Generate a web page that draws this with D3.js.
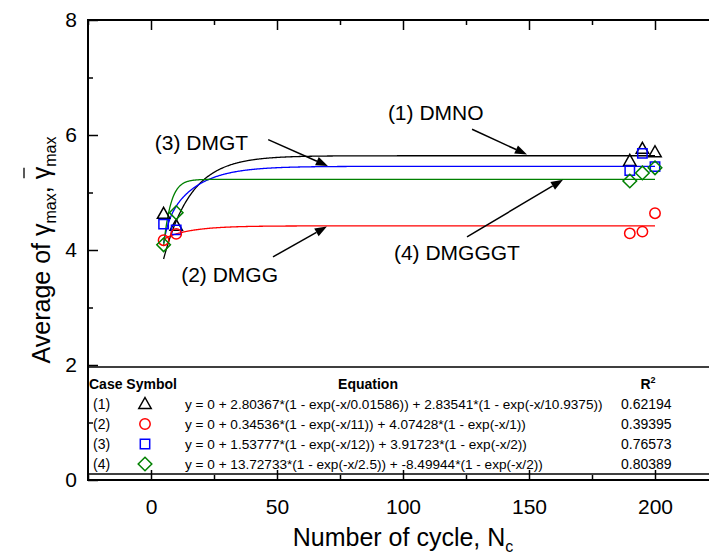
<!DOCTYPE html>
<html>
<head>
<meta charset="utf-8">
<script src="https://cdn.jsdelivr.net/npm/d3@7"></script>
<style>
  body { margin: 0; background: #fff; }
  text { font-family: "Liberation Sans", Arial, sans-serif; }
</style>
</head>
<body>
<script>
// ---------------- data ----------------
const cycles = [5, 10, 190, 195, 200];
const seriesNames = ["(1)", "(2)", "(3)", "(4)"];
const labels = ["DMNO", "DMGG", "DMGT", "DMGGGT"];
const dmno   = [4.63, 4.42, 5.55, 5.76, 5.70];
const dmgg   = [4.17, 4.28, 4.29, 4.32, 4.64];
const dmgt   = [4.45, 4.35, 5.38, 5.68, 5.45];
const dmgggt = [4.09, 4.65, 5.20, 5.34, 5.43];
const colors = ["#000000", "#ff0000", "#0000ff", "#008000"];
const symbols = ["triangle", "circle", "square", "diamond"];
// fit coefficients y = a1*(1-exp(-x/t1)) + a2*(1-exp(-x/t2))
const fitA1 = [2.80367, 0.34536, 1.53777, 13.72733];
const fitT1 = [0.01586, 11, 12, 2.5];
const fitA2 = [2.83541, 4.07428, 3.91723, -8.49944];
const fitT2 = [10.9375, 1, 2, 2];
const equations = [
  "y = 0 + 2.80367*(1 - exp(-x/0.01586)) + 2.83541*(1 - exp(-x/10.9375))",
  "y = 0 + 0.34536*(1 - exp(-x/11)) + 4.07428*(1 - exp(-x/1))",
  "y = 0 + 1.53777*(1 - exp(-x/12)) + 3.91723*(1 - exp(-x/2))",
  "y = 0 + 13.72733*(1 - exp(-x/2.5)) + -8.49944*(1 - exp(-x/2))"
];
const r2 = ["0.62194", "0.39395", "0.76573", "0.80389"];
const xTicks = [0, 50, 100, 150, 200];
const xMinor = [-25, 25, 75, 125, 175, 225];
const yTicks = [0, 2, 4, 6, 8];
const yMinor = [1, 3, 5, 7];
// annotations (data coords): text pos, arrow start, arrow end
const annText = ["(1) DMNO", "(3) DMGT", "(2) DMGG", "(4) DMGGGT"];
const annTextPos = [[94, 6.26], [1.5, 5.74], [50.4, 3.44], [96.4, 3.83]];
const annAnchor = ["start", "start", "end", "start"];
const annFrom = [[127.4, 6.10], [46.5, 5.92], [48.4, 3.88], [125.4, 4.23]];
const annTo = [[149.2, 5.66], [70.2, 5.46], [69.8, 4.41], [163.5, 5.22]];

const values = [dmno, dmgg, dmgt, dmgggt];

// ---------------- layout ----------------
const W = 709, H = 555;
const x = d3.scaleLinear().domain([-25, 225]).range([88, 718]);
const y = d3.scaleLinear().domain([0, 8]).range([480, 20]);

const svg = d3.select("body").append("svg").attr("width", W).attr("height", H);

// legend box (drawn below axes)
const lg = svg.append("g");
lg.append("rect").attr("x", 88).attr("y", 367).attr("width", 640).attr("height", 107)
  .attr("fill", "none").attr("stroke", "#000").attr("stroke-width", 1.5);
lg.append("text").attr("x", 89).attr("y", 389).attr("font-size", 14).attr("font-weight", "bold").text("Case Symbol");
lg.append("text").attr("x", 368).attr("y", 389).attr("font-size", 14).attr("font-weight", "bold").attr("text-anchor", "middle").text("Equation");
const r2h = lg.append("text").attr("x", 648).attr("y", 389).attr("font-size", 14).attr("font-weight", "bold").attr("text-anchor", "middle");
r2h.append("tspan").text("R");
r2h.append("tspan").attr("font-size", 9).attr("dy", -6).text("2");

function symbolPath(kind) {
  if (kind === "triangle") return "M0,-6.5L6.2,4.5L-6.2,4.5Z";
  if (kind === "square") return "M-4.7,-4.7L4.7,-4.7L4.7,4.7L-4.7,4.7Z";
  if (kind === "diamond") return "M0,-6.8L6.8,0L0,6.8L-6.8,0Z";
  return null;
}
function drawSymbol(g, kind, cx, cy, color) {
  if (kind === "circle") {
    g.append("circle").attr("cx", cx).attr("cy", cy).attr("r", 5.2)
      .attr("fill", "none").attr("stroke", color).attr("stroke-width", 1.5);
  } else {
    g.append("path").attr("d", symbolPath(kind)).attr("transform", `translate(${cx},${cy})`)
      .attr("fill", "none").attr("stroke", color).attr("stroke-width", 1.5);
  }
}

const rowY = [404, 424, 444, 464];
seriesNames.forEach((n, i) => {
  lg.append("text").attr("x", 93).attr("y", rowY[i] + 5).attr("font-size", 14).text(n);
  drawSymbol(lg, symbols[i], 145, rowY[i], colors[i]);
  lg.append("text").attr("x", 185).attr("y", rowY[i] + 5).attr("font-size", 13.6).text(equations[i]);
  lg.append("text").attr("x", 621).attr("y", rowY[i] + 5).attr("font-size", 14).text(r2[i]);
});

// fit curves
const fitXs = d3.range(5, 200.01, 0.25);
const line = d3.line().x(d => x(d[0])).y(d => y(d[1]));
[0, 2, 3, 1].forEach(i => {
  const pts = fitXs.map(v => [v, fitA1[i] * (1 - Math.exp(-v / fitT1[i])) + fitA2[i] * (1 - Math.exp(-v / fitT2[i]))]);
  svg.append("path").datum(pts).attr("d", line).attr("fill", "none")
    .attr("stroke", colors[i]).attr("stroke-width", 1.3);
});

// data points
const pg = svg.append("g");
[0, 2, 1, 3].forEach(i => {
  values[i].forEach((v, j) => drawSymbol(pg, symbols[i], x(cycles[j]), y(v), colors[i]));
});

// annotations
const ag = svg.append("g");
annText.forEach((t, i) => {
  ag.append("text").attr("x", x(annTextPos[i][0])).attr("y", y(annTextPos[i][1]))
    .attr("font-size", 21).attr("text-anchor", annAnchor[i]).text(t);
  const x1 = x(annFrom[i][0]), y1 = y(annFrom[i][1]);
  const x2 = x(annTo[i][0]), y2 = y(annTo[i][1]);
  const ang = Math.atan2(y2 - y1, x2 - x1);
  const L = 12, Wd = 4.5;
  const bx = x2 - L * Math.cos(ang), by = y2 - L * Math.sin(ang);
  ag.append("line").attr("x1", x1).attr("y1", y1).attr("x2", bx).attr("y2", by)
    .attr("stroke", "#000").attr("stroke-width", 1.5);
  ag.append("path").attr("d", `M${x2},${y2}L${bx + Wd * Math.sin(ang)},${by - Wd * Math.cos(ang)}L${bx - Wd * Math.sin(ang)},${by + Wd * Math.cos(ang)}Z`)
    .attr("fill", "#000");
});

// axes
function styleAxis(g) {
  g.select(".domain").remove();
  g.selectAll(".tick line").attr("stroke", "#000").attr("stroke-width", 1.5);
  g.selectAll("text").attr("font-size", 21).attr("fill", "#000")
    .attr("font-family", "Liberation Sans, Arial, sans-serif");
}
svg.append("g").attr("transform", "translate(0,480)")
  .call(d3.axisBottom(x).tickValues(xTicks).tickSize(-10).tickPadding(19).tickFormat(d3.format("d"))).call(styleAxis);
svg.append("g").attr("transform", "translate(0,480)")
  .call(d3.axisBottom(x).tickValues(xMinor).tickSize(-5).tickFormat("")).call(styleAxis);
svg.append("g").attr("transform", "translate(0,20)")
  .call(d3.axisTop(x).tickValues(xTicks).tickSize(-10).tickFormat("")).call(styleAxis);
svg.append("g").attr("transform", "translate(0,20)")
  .call(d3.axisTop(x).tickValues(xMinor).tickSize(-5).tickFormat("")).call(styleAxis);
svg.append("g").attr("transform", "translate(88,0)")
  .call(d3.axisLeft(y).tickValues(yTicks).tickSize(-10).tickPadding(11).tickFormat(d3.format("d"))).call(styleAxis);
svg.append("g").attr("transform", "translate(88,0)")
  .call(d3.axisLeft(y).tickValues(yMinor).tickSize(-5).tickFormat("")).call(styleAxis);

// frame
svg.append("rect").attr("x", 88).attr("y", 20).attr("width", 630).attr("height", 460)
  .attr("fill", "none").attr("stroke", "#000").attr("stroke-width", 2);

// axis titles
const xt = svg.append("text").attr("x", 403).attr("y", 546).attr("font-size", 25).attr("text-anchor", "middle");
xt.append("tspan").text("Number of cycle, N");
xt.append("tspan").attr("font-size", 16).attr("dy", 6).text("c");

const yt = svg.append("text").attr("transform", "translate(50,250) rotate(-90)")
  .attr("font-size", 25).attr("text-anchor", "middle");
yt.append("tspan").text("Average of ");
yt.append("tspan").text("\u03b3");
yt.append("tspan").attr("font-size", 16).attr("dy", 6).text("max");
yt.append("tspan").attr("dy", -6).text(", ");
yt.append("tspan").text("\u03b3");
yt.append("tspan").attr("font-size", 16).attr("dy", 6).text("max");
// overline over the second gamma
try {
  const all = yt.node();
  const idx = all.textContent.lastIndexOf("\u03b3");
  const e = all.getExtentOfChar(idx);
  svg.append("line").attr("transform", "translate(50,250) rotate(-90)")
    .attr("x1", e.x + 1).attr("x2", e.x + e.width - 1)
    .attr("y1", e.y - 3).attr("y2", e.y - 3)
    .attr("stroke", "#000").attr("stroke-width", 1.3);
} catch (err) {}
</script>
</body>
</html>
